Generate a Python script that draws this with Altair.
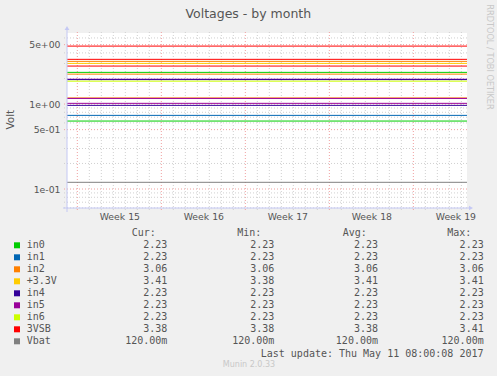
import altair as alt
import pandas as pd

# ---------------- data ----------------
names = ["in0", "in1", "in2", "+3.3V", "in4", "in5", "in6", "3VSB", "Vbat"]
colors = ["#00CC00", "#0066B3", "#FF8000", "#FFCC00", "#330099", "#990099", "#CCFF00", "#FF0000", "#808080"]
cur_vals = [2.23, 2.23, 3.06, 3.41, 2.23, 2.23, 2.23, 3.38, 0.12]
min_vals = [2.23, 2.23, 3.06, 3.38, 2.23, 2.23, 2.23, 3.38, 0.12]
avg_vals = [2.23, 2.23, 3.06, 3.41, 2.23, 2.23, 2.23, 3.38, 0.12]
max_vals = [2.23, 2.23, 3.06, 3.41, 2.23, 2.23, 2.23, 3.41, 0.12]

# levels drawn in the plot and the series colour of each
line_series = ["3VSB", "3VSB", "in2", "+3.3V", "3VSB", "in0", "in2", "in5", "in4",
               "in6", "in2", "in5", "in5", "in4", "in1", "in0", "Vbat"]
line_values = [4.81, 3.36, 3.18, 3.01, 2.80, 2.36, 2.25, 1.96, 1.94,
               1.86, 1.18, 1.165, 1.02, 0.965, 0.736, 0.631, 0.12]

week_numbers = [15, 16, 17, 18, 19]
week_start_days = [0, 7, 14, 21, 28]          # days since Mon 10 Apr 2017
x_domain = [-0.86, 32.47]
y_domain = [0.0598, 6.86]
y_major = [0.1, 0.5, 1, 5]
y_major_labels = ["1e-01", "5e-01", "1e+00", "5e+00"]
y_minor = [0.06, 0.07, 0.08, 0.09, 0.2, 0.3, 0.4, 0.6, 0.7, 0.8, 0.9, 2, 3, 4, 6]
last_update = "Last update: Thu May 11 08:00:08 2017"

# ---------------- helpers ----------------
SANS = "DejaVu Sans"
MONO = "DejaVu Sans Mono"
TXT = "#555555"
W, H = 400, 175
AXC = "#c4c8f4"

def fmt(v):
    if v < 1:
        return f"{v*1000:.2f}m"
    return f"{v:.2f}\u00a0"

day_grid = [d for d in range(0, 33) if d not in week_start_days]
week_mids = [s + 3.5 for s in week_start_days]

xexpr = "".join(f"datum.value == {m} ? 'Week {n}' : " for m, n in zip(week_mids, week_numbers)) + "''"
yexpr = "".join(f"datum.value == {v} ? '{l}' : " for v, l in zip(y_major, y_major_labels)) + "''"

xs = alt.Scale(domain=x_domain, nice=False, zero=False)
ys = alt.Scale(type="log", domain=y_domain, nice=False)

x_axis = alt.Axis(values=week_mids, labelExpr=xexpr, title=None, grid=False, ticks=False,
                  domain=False, labelFont=SANS, labelFontSize=9.3, labelColor=TXT,
                  labelPadding=4, labelOverlap=False, labelBound=False, labelFlush=False)
y_axis = alt.Axis(values=y_major, labelExpr=yexpr, title=None, grid=False, ticks=False,
                  domain=False, labelFont=SANS, labelFontSize=9.3, labelColor=TXT,
                  labelPadding=7, labelOverlap=False, labelBound=False, labelFlush=False)

color_scale = alt.Scale(domain=names, range=colors)

# ---------------- plot layers ----------------
day_df = pd.DataFrame({"day": day_grid})
week_df = pd.DataFrame({"day": week_start_days})
minor_df = pd.DataFrame({"v": y_minor})
major_df = pd.DataFrame({"v": y_major})
lines_df = pd.DataFrame({"series": line_series, "value": line_values})

GRID = "#d0d0d0"
MAJ = "#f0a0a0"
vgrid_minor = alt.Chart(day_df).mark_rule(color=GRID, strokeDash=[1, 2], strokeWidth=1).encode(
    x=alt.X("day:Q", scale=xs, axis=x_axis), y=alt.value(-1), y2=alt.value(H + 3))
vgrid_major = alt.Chart(week_df).mark_rule(color=MAJ, strokeDash=[1, 2], strokeWidth=1).encode(
    x=alt.X("day:Q", scale=xs, axis=x_axis), y=alt.value(-1), y2=alt.value(H + 3))
hgrid_minor = alt.Chart(minor_df).mark_rule(color=GRID, strokeDash=[1, 2], strokeWidth=1).encode(
    y=alt.Y("v:Q", scale=ys, axis=y_axis), x=alt.value(-3), x2=alt.value(W + 2))
hgrid_major = alt.Chart(major_df).mark_rule(color=MAJ, strokeDash=[1, 2], strokeWidth=1).encode(
    y=alt.Y("v:Q", scale=ys, axis=y_axis), x=alt.value(-3), x2=alt.value(W + 2))

data_lines = alt.Chart(lines_df).mark_rule(strokeWidth=1).encode(
    y=alt.Y("value:Q", scale=ys, axis=y_axis),
    color=alt.Color("series:N", scale=color_scale, legend=None))

one = alt.Data(values=[{}])
xaxis_line = alt.Chart(one).mark_rule(color=AXC, strokeWidth=1).encode(
    x=alt.value(-4), x2=alt.value(W + 3), y=alt.value(H))
yaxis_line = alt.Chart(one).mark_rule(color=AXC, strokeWidth=1).encode(
    x=alt.value(0), y=alt.value(-3), y2=alt.value(H + 4))
x_arrow = alt.Chart(one).mark_point(shape="triangle-right", filled=True, size=22, color=AXC, opacity=1).encode(
    x=alt.value(W + 4), y=alt.value(H))
y_arrow = alt.Chart(one).mark_point(shape="triangle-up", filled=True, size=22, color=AXC, opacity=1).encode(
    x=alt.value(0), y=alt.value(-5))

plot = alt.layer(vgrid_minor, vgrid_major, hgrid_minor, hgrid_major, data_lines,
                 xaxis_line, yaxis_line, x_arrow, y_arrow)

# ---------------- texts ----------------
def label(text, x, y, size, color=TXT, font=SANS, align="center", angle=0):
    kw = dict(font=font, fontSize=size, color=color, align=align, baseline="middle")
    if angle:
        kw["angle"] = angle
    return alt.Chart(one).mark_text(**kw).encode(
        text=alt.value(text), x=alt.value(x - 67), y=alt.value(y - 33))

title = label("Voltages - by month", 248.3, 13.5, 12.5)
vlabel = label("Volt", 10.8, 119.7, 10.5, angle=270)
rrd = label("RRDTOOL / TOBI OETIKER", 488.5, 57, 8.2, color="#c8c8c8", angle=90)
munin = label("Munin 2.0.33", 249, 365, 8, color="#c8c8c8")
upd = label(last_update, 483.5, 354, 10, font=MONO, align="right")
hdrs = [label(t, x, 233.3, 10, font=MONO, align="left")
        for t, x in zip(["Cur:", "Min:", "Avg:", "Max:"], [131.7, 237.3, 342.7, 447.3])]

# ---------------- legend table ----------------
legend_df = pd.DataFrame({
    "name": names,
    "cur": [fmt(v) for v in cur_vals],
    "min": [fmt(v) for v in min_vals],
    "avg": [fmt(v) for v in avg_vals],
    "max": [fmt(v) for v in max_vals],
})
row_scale = alt.Scale(type="point", domain=names, range=[245.3 - 33, 341.3 - 33], padding=0)
lbase = alt.Chart(legend_df).encode(y=alt.Y("name:N", scale=row_scale, axis=None))
swatch = lbase.mark_square(size=36, opacity=1).encode(
    x=alt.value(17 - 67), color=alt.Color("name:N", scale=color_scale, legend=None))
ltexts = [lbase.mark_text(font=MONO, fontSize=10, color=TXT, align="left", baseline="middle").encode(
    x=alt.value(26.7 - 67), text="name:N")]
for col, xr in zip(["cur", "min", "avg", "max"], [167.3, 274.3, 378.0, 483.7]):
    ltexts.append(lbase.mark_text(font=MONO, fontSize=10, color=TXT, align="right", baseline="middle").encode(
        x=alt.value(xr - 67), text=f"{col}:N"))

legend = alt.layer(swatch, *ltexts)

chart = alt.layer(
    plot, legend, title, vlabel, rrd, munin, upd, *hdrs
).resolve_scale(y="independent").properties(
    width=W, height=H,
    padding={"left": 67, "top": 33, "right": 30, "bottom": 168},
    autosize=alt.AutoSizeParams(type="none"),
).configure(background="#F0F0F0").configure_view(fill="white", strokeWidth=0)

chart.save("out.html", embed_options={"renderer": "svg", "actions": False})
